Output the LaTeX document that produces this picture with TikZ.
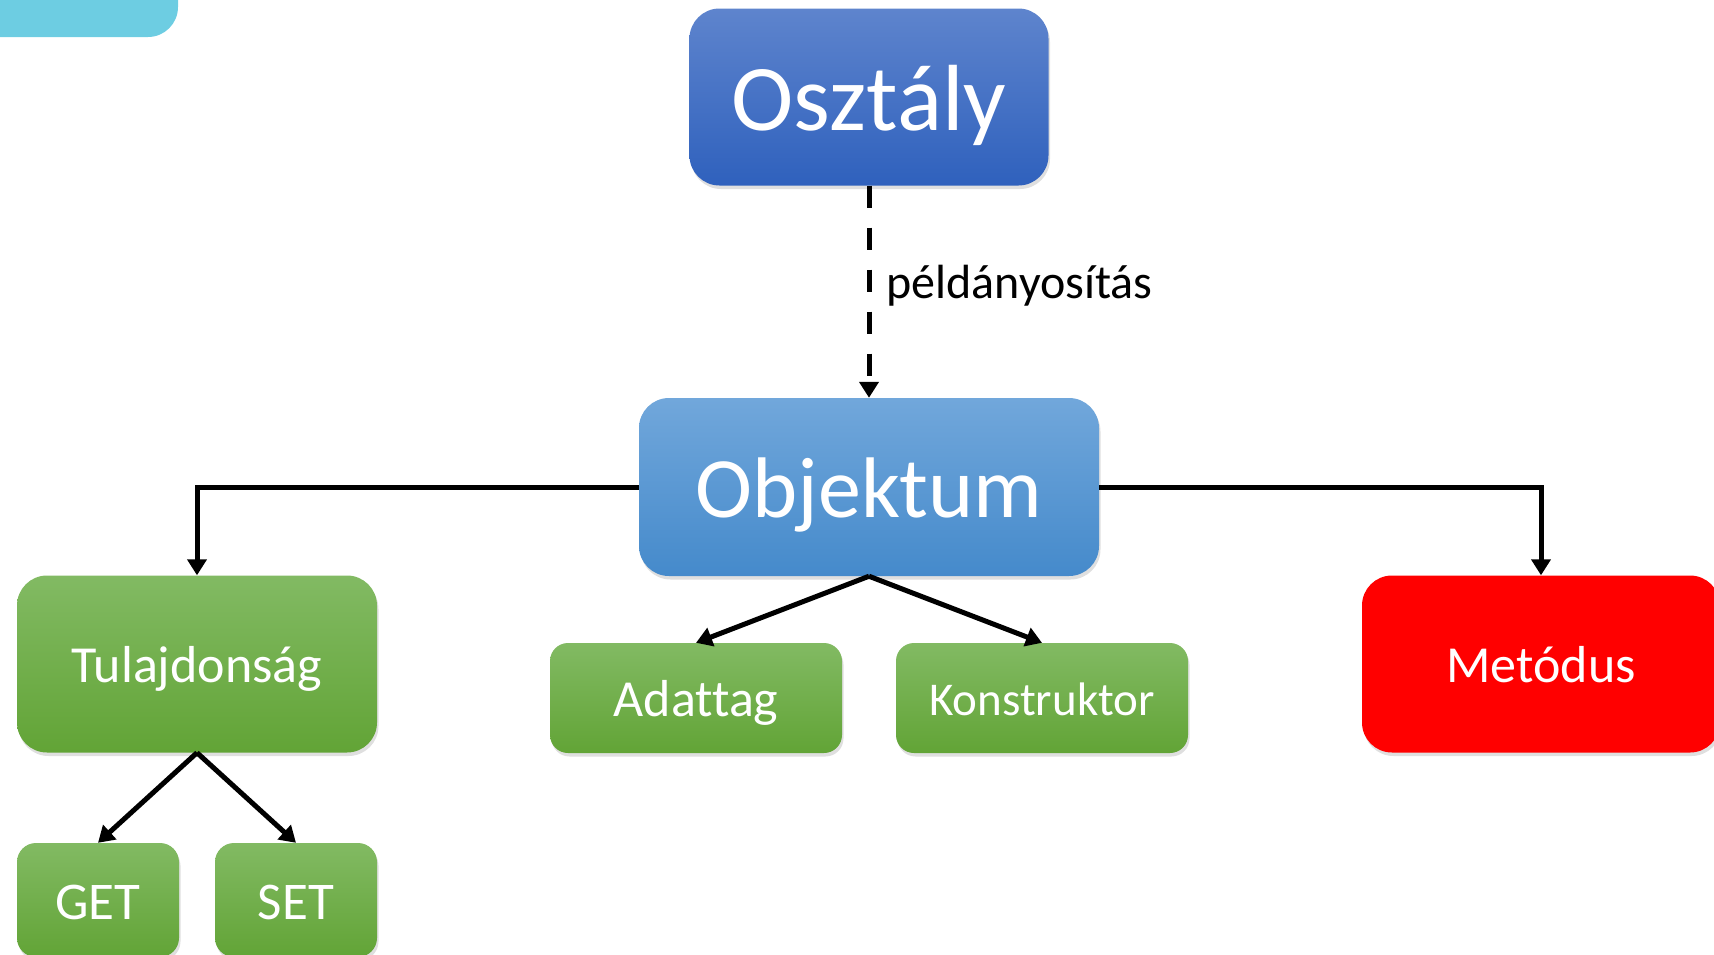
\documentclass[tikz,border=0pt]{standalone}
\usepackage{fontspec}
\setmainfont{Carlito}[Ligatures={NoCommon}]
\usetikzlibrary{arrows.meta,shadows}
\definecolor{tabcyan}{RGB}{109,205,226}
\definecolor{blueTop}{RGB}{94,132,205}
\definecolor{blueBot}{RGB}{47,97,189}
\definecolor{lblueTop}{RGB}{113,167,219}
\definecolor{lblueBot}{RGB}{69,138,203}
\definecolor{greenTop}{RGB}{130,186,99}
\definecolor{greenBot}{RGB}{98,164,54}
\definecolor{redbox}{RGB}{255,0,0}
\tikzset{
  box/.style={rounded corners=#1, draw=none, text=white, align=center, inner sep=0pt,
    text depth=0pt,
    drop shadow={opacity=0.25, shadow xshift=1.5pt, shadow yshift=-3.5pt}},
  box/.default=30pt,
  bluebox/.style={box, top color=blueTop, bottom color=blueBot},
  lbluebox/.style={box, top color=lblueTop, bottom color=lblueBot},
  greenbox/.style={box=#1, top color=greenTop, bottom color=greenBot},
  greenbox/.default=30pt,
  redboxst/.style={box, fill=redbox},
  conn/.style={line width=5pt, -{Triangle[width=19pt,length=16pt]}},
}
\begin{document}
\begin{tikzpicture}[x=1pt,y=-1pt]
\useasboundingbox (0,0) rectangle (1714,954);
% top-left tab
\fill[tabcyan, rounded corners=30pt] (-60,-60) rectangle (178,37);

\node[bluebox, minimum width=359pt, minimum height=177pt, font=\fontsize{94}{100}\selectfont, text height=67.7pt] (osz) at (869,97) {Osztály};
\node[lbluebox, minimum width=460pt, minimum height=178pt, font=\fontsize{86}{92}\selectfont, text height=60pt] (obj) at (869,487) {Objektum};
\node[greenbox, minimum width=360pt, minimum height=177pt, font=\fontsize{52}{58}\selectfont, text height=37pt] (tul) at (197,664) {Tulajdonság};
\node[greenbox=18pt, minimum width=292pt, minimum height=110pt, font=\fontsize{52}{58}\selectfont, text height=37pt] (ada) at (696,698) {Adattag};
\node[greenbox=18pt, minimum width=292pt, minimum height=110pt, font=\fontsize{47}{52}\selectfont, text height=34pt] (kon) at (1042,698) {Konstruktor};
\node[redboxst, minimum width=358pt, minimum height=177pt, font=\fontsize{52}{58}\selectfont, text height=37pt] (met) at (1541,664) {Metódus};
\node[greenbox=19pt, minimum width=162pt, minimum height=114pt, font=\fontsize{53}{58}\selectfont, text height=38pt] (get) at (98,900) {GET};
\node[greenbox=19pt, minimum width=162pt, minimum height=114pt, font=\fontsize{53}{58}\selectfont, text height=38pt] (set) at (296,900) {SET};

\draw[conn, dash pattern=on 22pt off 20pt] (osz.south) -- (obj.north)
  node[pos=0.47, right=15pt, font=\fontsize{48}{52}\selectfont, text=black, inner sep=0pt] (lab) {példányosítás};

\draw[conn] (obj.west) -| (tul.north);
\draw[conn] (obj.east) -| (met.north);
\draw[conn] (obj.south) -- (ada.north);
\draw[conn] (obj.south) -- (kon.north);
\draw[conn] (tul.south) -- (get.north);
\draw[conn] (tul.south) -- (set.north);
\end{tikzpicture}
\end{document}
